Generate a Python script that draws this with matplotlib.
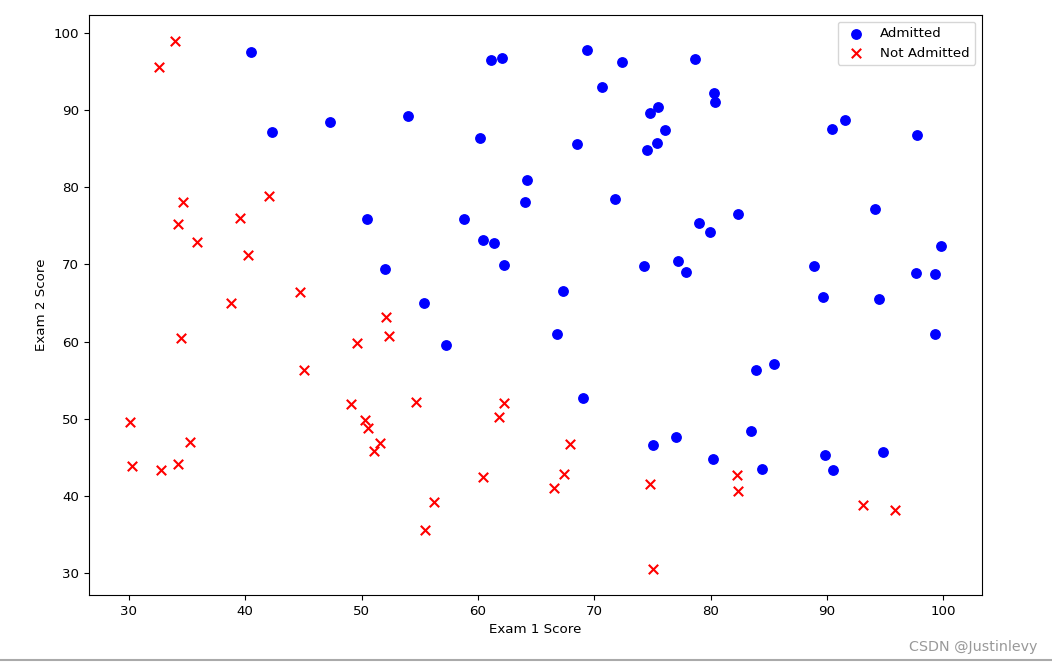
import matplotlib
matplotlib.use("Agg")
import matplotlib.pyplot as plt

admitted_x = [60.18, 79.03, 61.11, 75.02, 76.10, 84.43, 82.31, 69.36, 53.97, 69.07,
              70.66, 76.98, 89.68, 77.92, 62.27, 80.19, 61.38, 85.40, 52.05, 64.18,
              83.90, 94.44, 77.19, 97.77, 62.07, 91.56, 79.94, 99.27, 90.55, 97.65,
              74.25, 71.80, 75.40, 40.46, 80.28, 66.75, 64.04, 72.35, 60.46, 58.84,
              99.83, 47.26, 50.46, 88.91, 94.83, 67.32, 57.24, 80.37, 68.47, 75.48,
              78.64, 94.09, 90.45, 74.49, 89.85, 83.49, 42.26, 99.32, 55.34, 74.78]
admitted_y = [86.31, 75.34, 96.51, 46.55, 87.42, 43.53, 76.48, 97.72, 89.21, 52.74,
              92.93, 47.58, 65.80, 68.97, 69.95, 44.82, 72.81, 57.05, 69.43, 80.91,
              56.31, 65.57, 70.46, 86.73, 96.77, 88.70, 74.16, 61.00, 43.39, 68.86,
              69.82, 78.45, 85.76, 97.54, 92.12, 60.99, 78.03, 96.23, 73.09, 75.86,
              72.37, 88.48, 75.81, 69.80, 45.69, 66.59, 59.51, 90.96, 85.59, 90.42,
              96.65, 77.16, 87.51, 84.85, 45.36, 48.38, 87.10, 68.78, 64.93, 89.53]

rejected_x = [34.62, 30.29, 35.85, 45.08, 95.86, 75.01, 39.54, 67.95, 67.37, 50.53,
              34.21, 93.11, 61.83, 38.79, 52.11, 40.24, 54.64, 33.92, 74.79, 34.18,
              51.55, 82.37, 51.05, 62.22, 34.52, 50.29, 49.59, 32.58, 35.29, 56.25,
              30.06, 44.67, 66.56, 49.07, 32.72, 60.46, 82.23, 42.08, 52.35, 55.48]
rejected_y = [78.02, 43.89, 72.90, 56.32, 38.23, 30.60, 76.04, 46.68, 42.84, 48.86,
              44.21, 38.80, 50.26, 65.00, 63.13, 71.17, 52.21, 98.87, 41.57, 75.24,
              46.86, 40.62, 45.82, 52.06, 60.40, 49.80, 59.81, 95.60, 47.02, 39.26,
              49.59, 66.45, 41.09, 51.88, 43.31, 42.51, 42.72, 78.84, 60.77, 35.57]

W, H = 1052, 665
fig = plt.figure(figsize=(W / 100, H / 100), dpi=100)
ax = fig.add_axes([89 / W, 1 - 595 / H, (982 - 89) / W, (595 - 15) / H])

fs = 9.6
ax.scatter(admitted_x, admitted_y, s=46, c='b', marker='o', label='Admitted')
ax.scatter(rejected_x, rejected_y, s=46, c='r', marker='x', label='Not Admitted')
ax.legend(loc='upper right', fontsize=fs)
ax.set_xlabel('Exam 1 Score', fontsize=fs)
ax.set_ylabel('Exam 2 Score', fontsize=fs)
ax.tick_params(labelsize=fs)

fig.text(1037 / W, 1 - 647 / H, 'CSDN @Justinlevy', ha='right', va='center',
         fontsize=10.3, color='#999999')
fig.add_artist(plt.Line2D([0, 1], [1 - 660 / H, 1 - 660 / H], color='#aaaaaa', lw=1.5,
                          transform=fig.transFigure))

fig.savefig('out.png', dpi=100)
